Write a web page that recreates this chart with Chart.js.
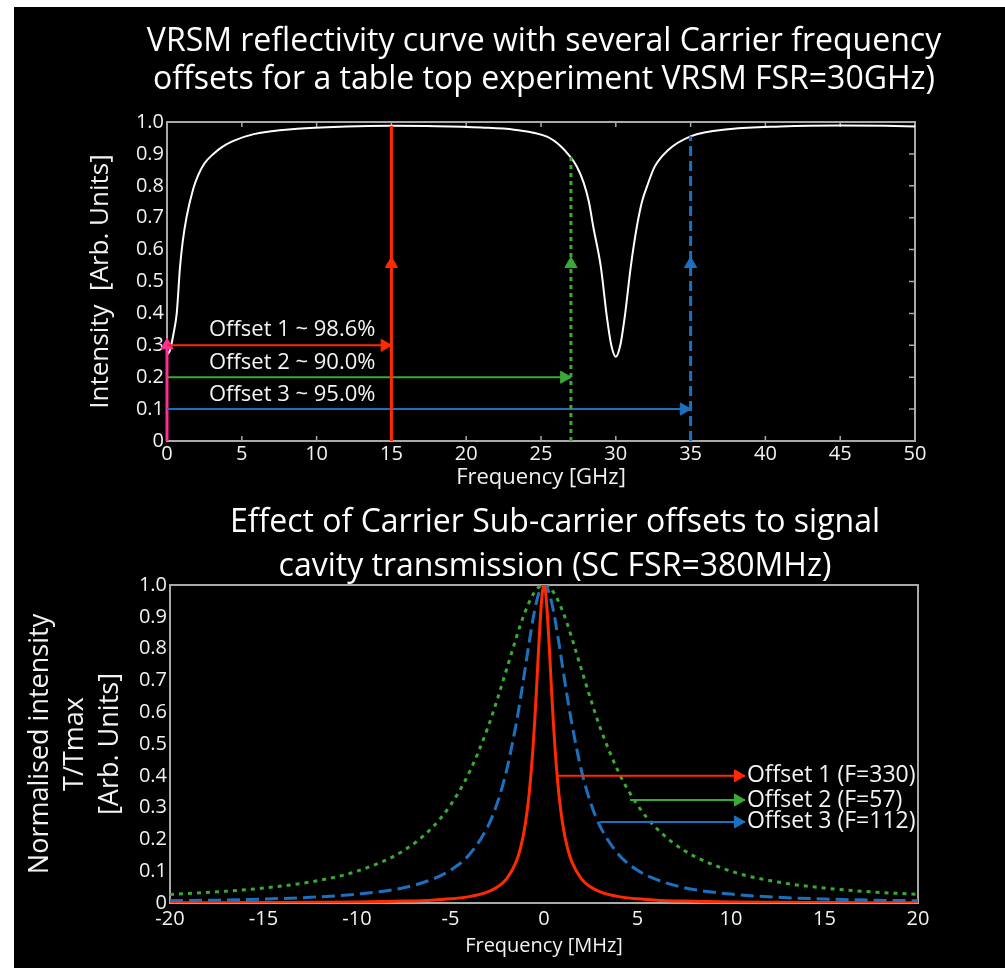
<!DOCTYPE html>
<html>
<head>
<meta charset="utf-8">
<script src="https://cdn.jsdelivr.net/npm/chart.js@4"></script>
<style>
body { margin: 0; background: #fff; overflow: hidden; }
#board { position: absolute; left: 14px; top: 7px; width: 991px; height: 961px; background: #000; overflow: hidden; }
#board canvas { position: absolute; left: 0; }
#reflect { top: 0; }
#trans { top: 483px; }
</style>
</head>
<body>
<div id="board">
<canvas id="reflect" width="1060" height="483"></canvas>
<canvas id="trans" width="1082" height="478"></canvas>
</div>
<script>
// top plot: VRSM reflectivity
var vrsmFreq = [0, 0.2, 0.45, 0.65, 0.87, 1.05, 1.3, 1.75, 2.1, 2.5, 3.1, 3.7, 4.4, 5.8, 8.7, 12, 15, 18, 21, 23.2, 25.4, 26.3, 26.85, 27.4, 27.85, 28.2, 28.5, 29.0, 29.4, 29.7, 30.0, 30.3, 30.6, 31.0, 31.4, 31.75, 32.1, 32.6, 33.45, 35.0, 37.7, 41, 45, 48, 50];
var vrsmRefl = [0.27, 0.285, 0.34, 0.40, 0.545, 0.625, 0.70, 0.79, 0.835, 0.87, 0.90, 0.922, 0.94, 0.962, 0.979, 0.986, 0.988, 0.987, 0.983, 0.976, 0.954, 0.925, 0.897, 0.86, 0.81, 0.75, 0.67, 0.546, 0.39, 0.30, 0.264, 0.30, 0.39, 0.546, 0.67, 0.75, 0.80, 0.86, 0.91, 0.955, 0.978, 0.986, 0.989, 0.988, 0.986];

var offsetFreq = [15, 27, 35];
var offsetTop = [0.988, 0.897, 0.955];
var offsetRow = [0.3, 0.2, 0.1];
var offsetNames = ['Offset 1 ~ 98.6%', 'Offset 2 ~ 90.0%', 'Offset 3 ~ 95.0%'];
var carrierTop = 0.3;

// bottom plot: signal cavity transmission
var scFreq = [-20, -17.5, -15, -12.5, -10, -7.5, -6, -5, -4, -3, -2.5, -2, -1.5, -1.25, -1, -0.8, -0.6, -0.5, -0.4, -0.3, -0.2, -0.1, 0, 0.1, 0.2, 0.3, 0.4, 0.5, 0.6, 0.8, 1, 1.25, 1.5, 2, 2.5, 3, 4, 5, 6, 7.5, 10, 12.5, 15, 17.5, 20];
var trans1 = [0.001, 0.001, 0.0015, 0.002, 0.003, 0.006, 0.009, 0.013, 0.02, 0.035, 0.05, 0.076, 0.128, 0.174, 0.248, 0.34, 0.478, 0.569, 0.673, 0.786, 0.89, 0.97, 1, 0.97, 0.89, 0.786, 0.673, 0.569, 0.478, 0.34, 0.248, 0.174, 0.128, 0.076, 0.05, 0.035, 0.02, 0.013, 0.009, 0.006, 0.003, 0.002, 0.0015, 0.001, 0.001];
var trans2 = [0.027, 0.035, 0.047, 0.066, 0.10, 0.165, 0.236, 0.308, 0.41, 0.552, 0.64, 0.735, 0.831, 0.877, 0.917, 0.945, 0.969, 0.978, 0.986, 0.992, 0.996, 0.999, 1, 0.999, 0.996, 0.992, 0.986, 0.978, 0.969, 0.945, 0.917, 0.877, 0.831, 0.735, 0.64, 0.552, 0.41, 0.308, 0.236, 0.165, 0.10, 0.066, 0.047, 0.035, 0.027];
var trans3 = [0.007, 0.009, 0.0125, 0.018, 0.028, 0.048, 0.074, 0.103, 0.152, 0.241, 0.314, 0.417, 0.56, 0.646, 0.74, 0.817, 0.888, 0.92, 0.947, 0.97, 0.986, 0.996, 1, 0.996, 0.986, 0.97, 0.947, 0.92, 0.888, 0.817, 0.74, 0.646, 0.56, 0.417, 0.314, 0.241, 0.152, 0.103, 0.074, 0.048, 0.028, 0.018, 0.0125, 0.009, 0.007];

var fLabels = ['Offset 1 (F=330)', 'Offset 2 (F=57)', 'Offset 3 (F=112)'];
var fArrowRow = [0.4, 0.324, 0.255];
var fArrowStart = [0.68, 4.6, 3.0];
var fArrowEnd = 10.75;

var RED = '#ff2a00', GREEN = '#3aaa35', BLUE = '#1c70c0', PINK = '#ff2d95';
var FONT = '"Open Sans", Lato, sans-serif';

Chart.defaults.font.family = FONT;
Chart.defaults.color = '#f2f2f2';

function pts(xs, ys) {
  var out = [];
  for (var i = 0; i < xs.length; i++) out.push({x: xs[i], y: ys[i]});
  return out;
}

// a line with a triangle head on one of its points
function arrow(points, color, width, dash, head, rot) {
  return {
    data: points,
    showLine: true,
    clip: 10,
    borderColor: color,
    backgroundColor: color,
    borderWidth: width,
    borderDash: dash,
    borderCapStyle: 'butt',
    pointStyle: 'triangle',
    rotation: rot,
    pointBorderWidth: 1,
    pointRadius: function(c) { return c.dataIndex === head ? 7 : 0; }
  };
}

// invisible axis on the right, only to hold the plot's right margin
function spacer(w) {
  return {
    position: 'right', min: 0, max: 1,
    ticks: { display: false },
    grid: { display: false, drawTicks: false },
    border: { display: false },
    afterFit: function(s) { s.width = w; }
  };
}

var frameBox = {
  id: 'frameBox',
  beforeDatasetsDraw: function(chart, args, opts) {
    var a = chart.chartArea, ctx = chart.ctx;
    ctx.save();
    ctx.strokeStyle = '#a9a9a9';
    ctx.lineWidth = 2;
    ctx.strokeRect(a.left, a.top, a.right - a.left, a.bottom - a.top);
    if (opts.tickLen) {
      ctx.lineWidth = 1.5;
      ctx.beginPath();
      chart.scales.x.ticks.forEach(function(t) {
        var px = chart.scales.x.getPixelForValue(t.value);
        ctx.moveTo(px, a.bottom); ctx.lineTo(px, a.bottom - opts.tickLen);
        ctx.moveTo(px, a.top); ctx.lineTo(px, a.top + opts.tickLen);
      });
      chart.scales.y.ticks.forEach(function(t) {
        var py = chart.scales.y.getPixelForValue(t.value);
        ctx.moveTo(a.right, py); ctx.lineTo(a.right - opts.tickLen - 1, py);
      });
      ctx.stroke();
    }
    ctx.restore();
  }
};

var notes = {
  id: 'notes',
  afterDatasetsDraw: function(chart, args, opts) {
    var ctx = chart.ctx, sx = chart.scales.x, sy = chart.scales.y;
    ctx.save();
    ctx.fillStyle = '#f4f4f4';
    ctx.font = opts.size + 'px ' + FONT;
    ctx.textAlign = 'left';
    ctx.textBaseline = 'middle';
    opts.items.forEach(function(it) {
      ctx.fillText(it.text, sx.getPixelForValue(it.x), sy.getPixelForValue(it.y));
    });
    ctx.restore();
  }
};

// ---- top chart ----
var topSets = [];
for (var i = 0; i < 3; i++) {
  var dash = [[], [4, 4], [10, 5]][i];
  var col = [RED, GREEN, BLUE][i];
  topSets.push(arrow([{x: offsetFreq[i], y: 0}, {x: offsetFreq[i], y: 0.555}, {x: offsetFreq[i], y: offsetTop[i]}], col, 3, dash, 1, 0));
  topSets.push(arrow([{x: 0, y: offsetRow[i]}, {x: offsetFreq[i] - 0.45, y: offsetRow[i]}, {x: offsetFreq[i], y: offsetRow[i]}], col, 2, [], 1, 90));
}
topSets.push(arrow([{x: 0, y: 0}, {x: 0, y: carrierTop}], PINK, 3, [], 1, 0));
topSets.push({
  data: pts(vrsmFreq, vrsmRefl),
  showLine: true,
  borderColor: '#ffffff',
  borderWidth: 2,
  pointRadius: 0,
  cubicInterpolationMode: 'monotone'
});

new Chart(document.getElementById('reflect'), {
  type: 'scatter',
  data: { datasets: topSets },
  plugins: [frameBox, notes],
  options: {
    responsive: false,
    animation: false,
    devicePixelRatio: 1,
    plugins: {
      legend: { display: false },
      tooltip: { enabled: false },
      title: {
        display: true,
        text: ['VRSM reflectivity curve with several Carrier frequency', 'offsets for a table top experiment VRSM FSR=30GHz)'],
        color: '#ffffff',
        font: { size: 32, weight: 'normal', lineHeight: 38 / 32 },
        padding: { top: 16, bottom: 23 }
      },
      frameBox: { tickLen: 5 },
      notes: {
        size: 22,
        items: [
          {text: offsetNames[0], x: 2.8, y: 0.348},
          {text: offsetNames[1], x: 2.8, y: 0.245},
          {text: offsetNames[2], x: 2.8, y: 0.145}
        ]
      }
    },
    scales: {
      x: {
        type: 'linear', min: 0, max: 50,
        grid: { display: false, drawTicks: false },
        border: { display: false },
        ticks: { stepSize: 5, padding: 1, font: { size: 20 } },
        title: { display: true, text: 'Frequency [GHz]', font: { size: 22 }, padding: { top: 0, bottom: -1 } },
        afterFit: function(s) { s.height = 49; }
      },
      y: {
        type: 'linear', min: 0, max: 1,
        grid: { display: false, drawTicks: false },
        border: { display: false },
        ticks: { stepSize: 0.1, padding: 3, font: { size: 20 },
          callback: function(v) { return v === 0 ? '0' : v.toFixed(1); } },
        title: { display: true, text: 'Intensity  [Arb. Units]', font: { size: 26 }, padding: { top: 71, bottom: 0 } },
        afterFit: function(s) { s.width = 153; }
      },
      yr: spacer(159)
    }
  }
});

// ---- bottom chart ----
var botSets = [];
var fCols = [RED, GREEN, BLUE];
for (var k = 0; k < 3; k++) {
  botSets.push(arrow([{x: fArrowStart[k], y: fArrowRow[k]}, {x: fArrowEnd - 0.38, y: fArrowRow[k]}, {x: fArrowEnd, y: fArrowRow[k]}], fCols[k], 2, [], 1, 90));
}
botSets.push({ data: pts(scFreq, trans1), showLine: true, borderColor: RED, borderWidth: 3, pointRadius: 0, cubicInterpolationMode: 'monotone' });
botSets.push({ data: pts(scFreq, trans3), showLine: true, borderColor: BLUE, borderWidth: 3, borderDash: [13, 6], pointRadius: 0, cubicInterpolationMode: 'monotone' });
botSets.push({ data: pts(scFreq, trans2), showLine: true, borderColor: GREEN, borderWidth: 3, borderDash: [4, 5], pointRadius: 0, cubicInterpolationMode: 'monotone' });

new Chart(document.getElementById('trans'), {
  type: 'scatter',
  data: { datasets: botSets },
  plugins: [frameBox, notes],
  options: {
    responsive: false,
    animation: false,
    devicePixelRatio: 1,
    plugins: {
      legend: { display: false },
      tooltip: { enabled: false },
      title: {
        display: true,
        text: ['Effect of Carrier Sub-carrier offsets to signal', 'cavity transmission (SC FSR=380MHz)'],
        color: '#ffffff',
        font: { size: 32, weight: 'normal', lineHeight: 44 / 32 },
        padding: { top: 11, bottom: -4 }
      },
      frameBox: { tickLen: 0 },
      notes: {
        size: 23,
        items: [
          {text: fLabels[0], x: 10.85, y: fArrowRow[0]},
          {text: fLabels[1], x: 10.85, y: fArrowRow[1]},
          {text: fLabels[2], x: 10.85, y: fArrowRow[2]}
        ]
      }
    },
    scales: {
      x: {
        type: 'linear', min: -20, max: 20,
        grid: { display: false, drawTicks: false },
        border: { display: false },
        ticks: { stepSize: 5, padding: 4, font: { size: 20 } },
        title: { display: true, text: 'Frequency [MHz]', font: { size: 20 }, padding: { top: 0, bottom: 10 } },
        afterFit: function(s) { s.height = 65; }
      },
      y: {
        type: 'linear', min: 0, max: 1,
        grid: { display: false, drawTicks: false },
        border: { display: false },
        ticks: { stepSize: 0.1, padding: 3, font: { size: 20 },
          callback: function(v) { return v === 0 ? '0' : v.toFixed(1); } },
        title: { display: true, text: ['Normalised intensity', 'T/Tmax', '[Arb. Units]'], font: { size: 27, lineHeight: 35 / 27 }, padding: { top: 9, bottom: 0 } },
        afterFit: function(s) { s.width = 156; }
      },
      yr: spacer(178)
    }
  }
});
</script>
</body>
</html>
